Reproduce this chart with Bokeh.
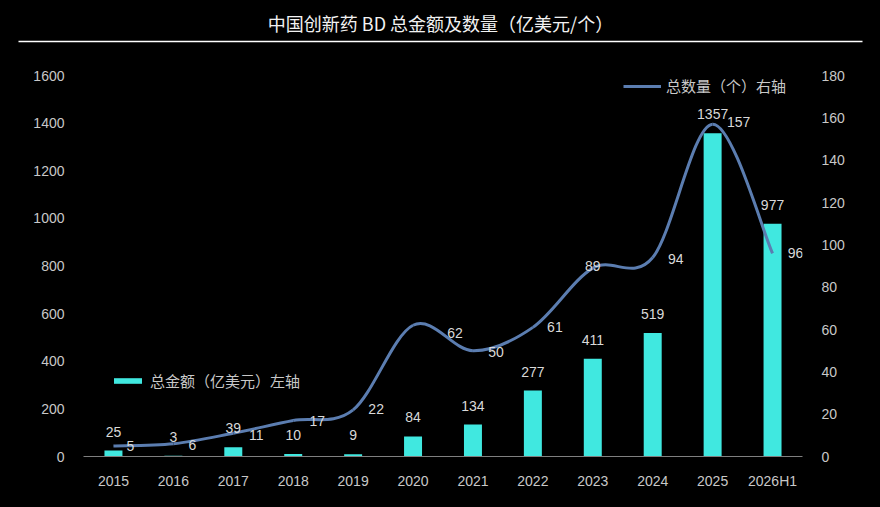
from bokeh.plotting import figure
from bokeh.models import (Range1d, LinearAxis, FixedTicker, Legend, LegendItem,
                          ColumnDataSource)
from bokeh.layouts import column
from bokeh.embed import file_html
from bokeh.resources import INLINE
from bokeh.core.properties import value

# ---------------- data ----------------
categories = ["2015", "2016", "2017", "2018", "2019", "2020", "2021",
              "2022", "2023", "2024", "2025", "2026H1"]
amount = [25, 3, 39, 10, 9, 84, 134, 277, 411, 519, 1357, 977]      # 亿美元 (left axis)
count = [5, 6, 11, 17, 22, 62, 50, 61, 89, 94, 157, 96]             # 个 (right axis)
left_ticks = [0, 200, 400, 600, 800, 1000, 1200, 1400, 1600]
right_ticks = [0, 20, 40, 60, 80, 100, 120, 140, 160, 180]

title_text = "中国创新药 BD 总金额及数量（亿美元/个）"
bar_legend = "总金额（亿美元）左轴"
line_legend = "总数量（个）右轴"

# label offsets for the count labels (pixels)
count_dx = [17, 19, 23, 24, 23, 42, 23, 22, 0, 23, 26, 23]
count_dy = [0, 1, 2, 0, -1, 8, 1, 0, -2, 1, -2, 0]

BG = "#000000"
BAR = "#40E8E0"
LINE = "#5B7DB0"
TXT = "#D9D9D9"
AX = "#C8C8C8"
CJK = "Noto Sans CJK SC"
NUM = "Liberation Sans"

W = 864
HT = 46
HM = 445

# ---------------- title strip ----------------
t = figure(width=W, height=HT, x_range=(0, W), y_range=(0, HT),
           x_axis_type=None, y_axis_type=None, toolbar_location=None,
           output_backend="svg", min_border=0)
t.frame_align = False
t.background_fill_color = BG
t.border_fill_color = BG
t.outline_line_color = None
t.grid.visible = False
t.text(x=[440], y=[HT - 22], text=[title_text], text_align="center",
       text_baseline="middle", text_color="#F2F2F2", text_font_size="18px",
       text_font=value(CJK))
t.segment(x0=[18], y0=[HT - 41], x1=[862], y1=[HT - 41], line_color="#FFFFFF",
          line_width=1.5)

# ---------------- main chart ----------------
xs = list(range(len(categories)))
src = ColumnDataSource(dict(x=xs, cat=categories, amount=amount, count=count,
                            amount_lbl=[str(v) for v in amount],
                            count_lbl=[str(v) for v in count],
                            dx=count_dx, dy=count_dy))

p = figure(width=W, height=HM, x_range=Range1d(-0.5, len(categories) - 0.5),
           y_range=Range1d(0, 1600), toolbar_location=None, output_backend="svg",
           min_border_left=83, min_border_right=62, min_border_top=29,
           min_border_bottom=27)
p.frame_align = False
p.extra_y_ranges = {"count": Range1d(0, 180)}
p.background_fill_color = BG
p.border_fill_color = BG
p.outline_line_color = None
p.grid.visible = False

bars = p.vbar(x="x", top="amount", width=0.3, source=src, fill_color=BAR,
              line_color=None)

# smooth curve through the count points (Catmull-Rom as cubic Bezier)
n = len(count)
bx0, by0, bx1, by1, cx0, cy0, cx1, cy1 = [], [], [], [], [], [], [], []
for i in range(n - 1):
    xm1, ym1 = (xs[i - 1], count[i - 1]) if i > 0 else (xs[i], count[i])
    xp2, yp2 = (xs[i + 2], count[i + 2]) if i + 2 < n else (xs[i + 1], count[i + 1])
    bx0.append(xs[i]); by0.append(count[i])
    bx1.append(xs[i + 1]); by1.append(count[i + 1])
    cx0.append(xs[i] + (xs[i + 1] - xm1) / 6.0)
    cy0.append(count[i] + (count[i + 1] - ym1) / 6.0)
    cx1.append(xs[i + 1] - (xp2 - xs[i]) / 6.0)
    cy1.append(count[i + 1] - (yp2 - count[i]) / 6.0)
p.bezier(x0=bx0, y0=by0, x1=bx1, y1=by1, cx0=cx0, cy0=cy0, cx1=cx1, cy1=cy1,
         line_color=LINE, line_width=3, y_range_name="count")
# legend key for the curve (no visible data)
line_key = p.line(x=[float("nan")], y=[float("nan")], line_color=LINE, line_width=3,
                  y_range_name="count")

# value labels
p.text(x="x", y="amount", text="amount_lbl", source=src, text_align="center",
       text_baseline="middle", y_offset=-19, text_color=TXT,
       text_font_size="14px", text_font=value(NUM))
p.text(x="x", y="count", text="count_lbl", source=src, text_align="center",
       text_baseline="middle", x_offset="dx", y_offset="dy", text_color=TXT,
       text_font_size="14px", text_font=value(NUM), y_range_name="count")

# axes
p.xaxis.ticker = FixedTicker(ticks=xs)
p.xaxis.major_label_overrides = {i: c for i, c in zip(xs, categories)}
p.xaxis.axis_line_color = "#7F7F7F"
p.xaxis.major_tick_line_color = None
p.xaxis.minor_tick_line_color = None
p.xaxis.major_label_standoff = 10
p.xaxis.major_label_text_color = AX
p.xaxis.major_label_text_font_size = "14px"
p.xaxis.major_label_text_font = NUM

p.yaxis.ticker = FixedTicker(ticks=left_ticks)
right = LinearAxis(y_range_name="count", ticker=FixedTicker(ticks=right_ticks))
p.add_layout(right, "right")
for ax in (p.yaxis[0], right):
    ax.axis_line_color = None
    ax.major_tick_line_color = None
    ax.minor_tick_line_color = None
    ax.major_label_standoff = 13
    ax.major_label_text_color = AX
    ax.major_label_text_font_size = "14px"
    ax.major_label_text_font = NUM

# legends
def style_legend(lg):
    lg.background_fill_alpha = 0
    lg.border_line_color = None
    lg.padding = 0
    lg.margin = 0
    lg.spacing = 0
    lg.label_standoff = 5
    lg.label_text_color = AX
    lg.label_text_font_size = "15px"
    lg.label_text_font = CJK
    lg.label_height = 16

lg1 = Legend(items=[LegendItem(label=bar_legend, renderers=[bars])], location=(27, 65),
             glyph_width=35, glyph_height=7)
style_legend(lg1)
lg2 = Legend(items=[LegendItem(label=line_legend, renderers=[line_key])], location=(540, 360),
             glyph_width=38, glyph_height=16)
style_legend(lg2)
p.add_layout(lg1, "center")
p.add_layout(lg2, "center")

layout = column(t, p, spacing=0)
html = file_html(layout, INLINE)
# black page behind the canvases so no light seams show at the frame edges
html = html.replace("</head>", "<style>html, body { background-color: #000000; }</style></head>", 1)
open("out.html", "w").write(html)
